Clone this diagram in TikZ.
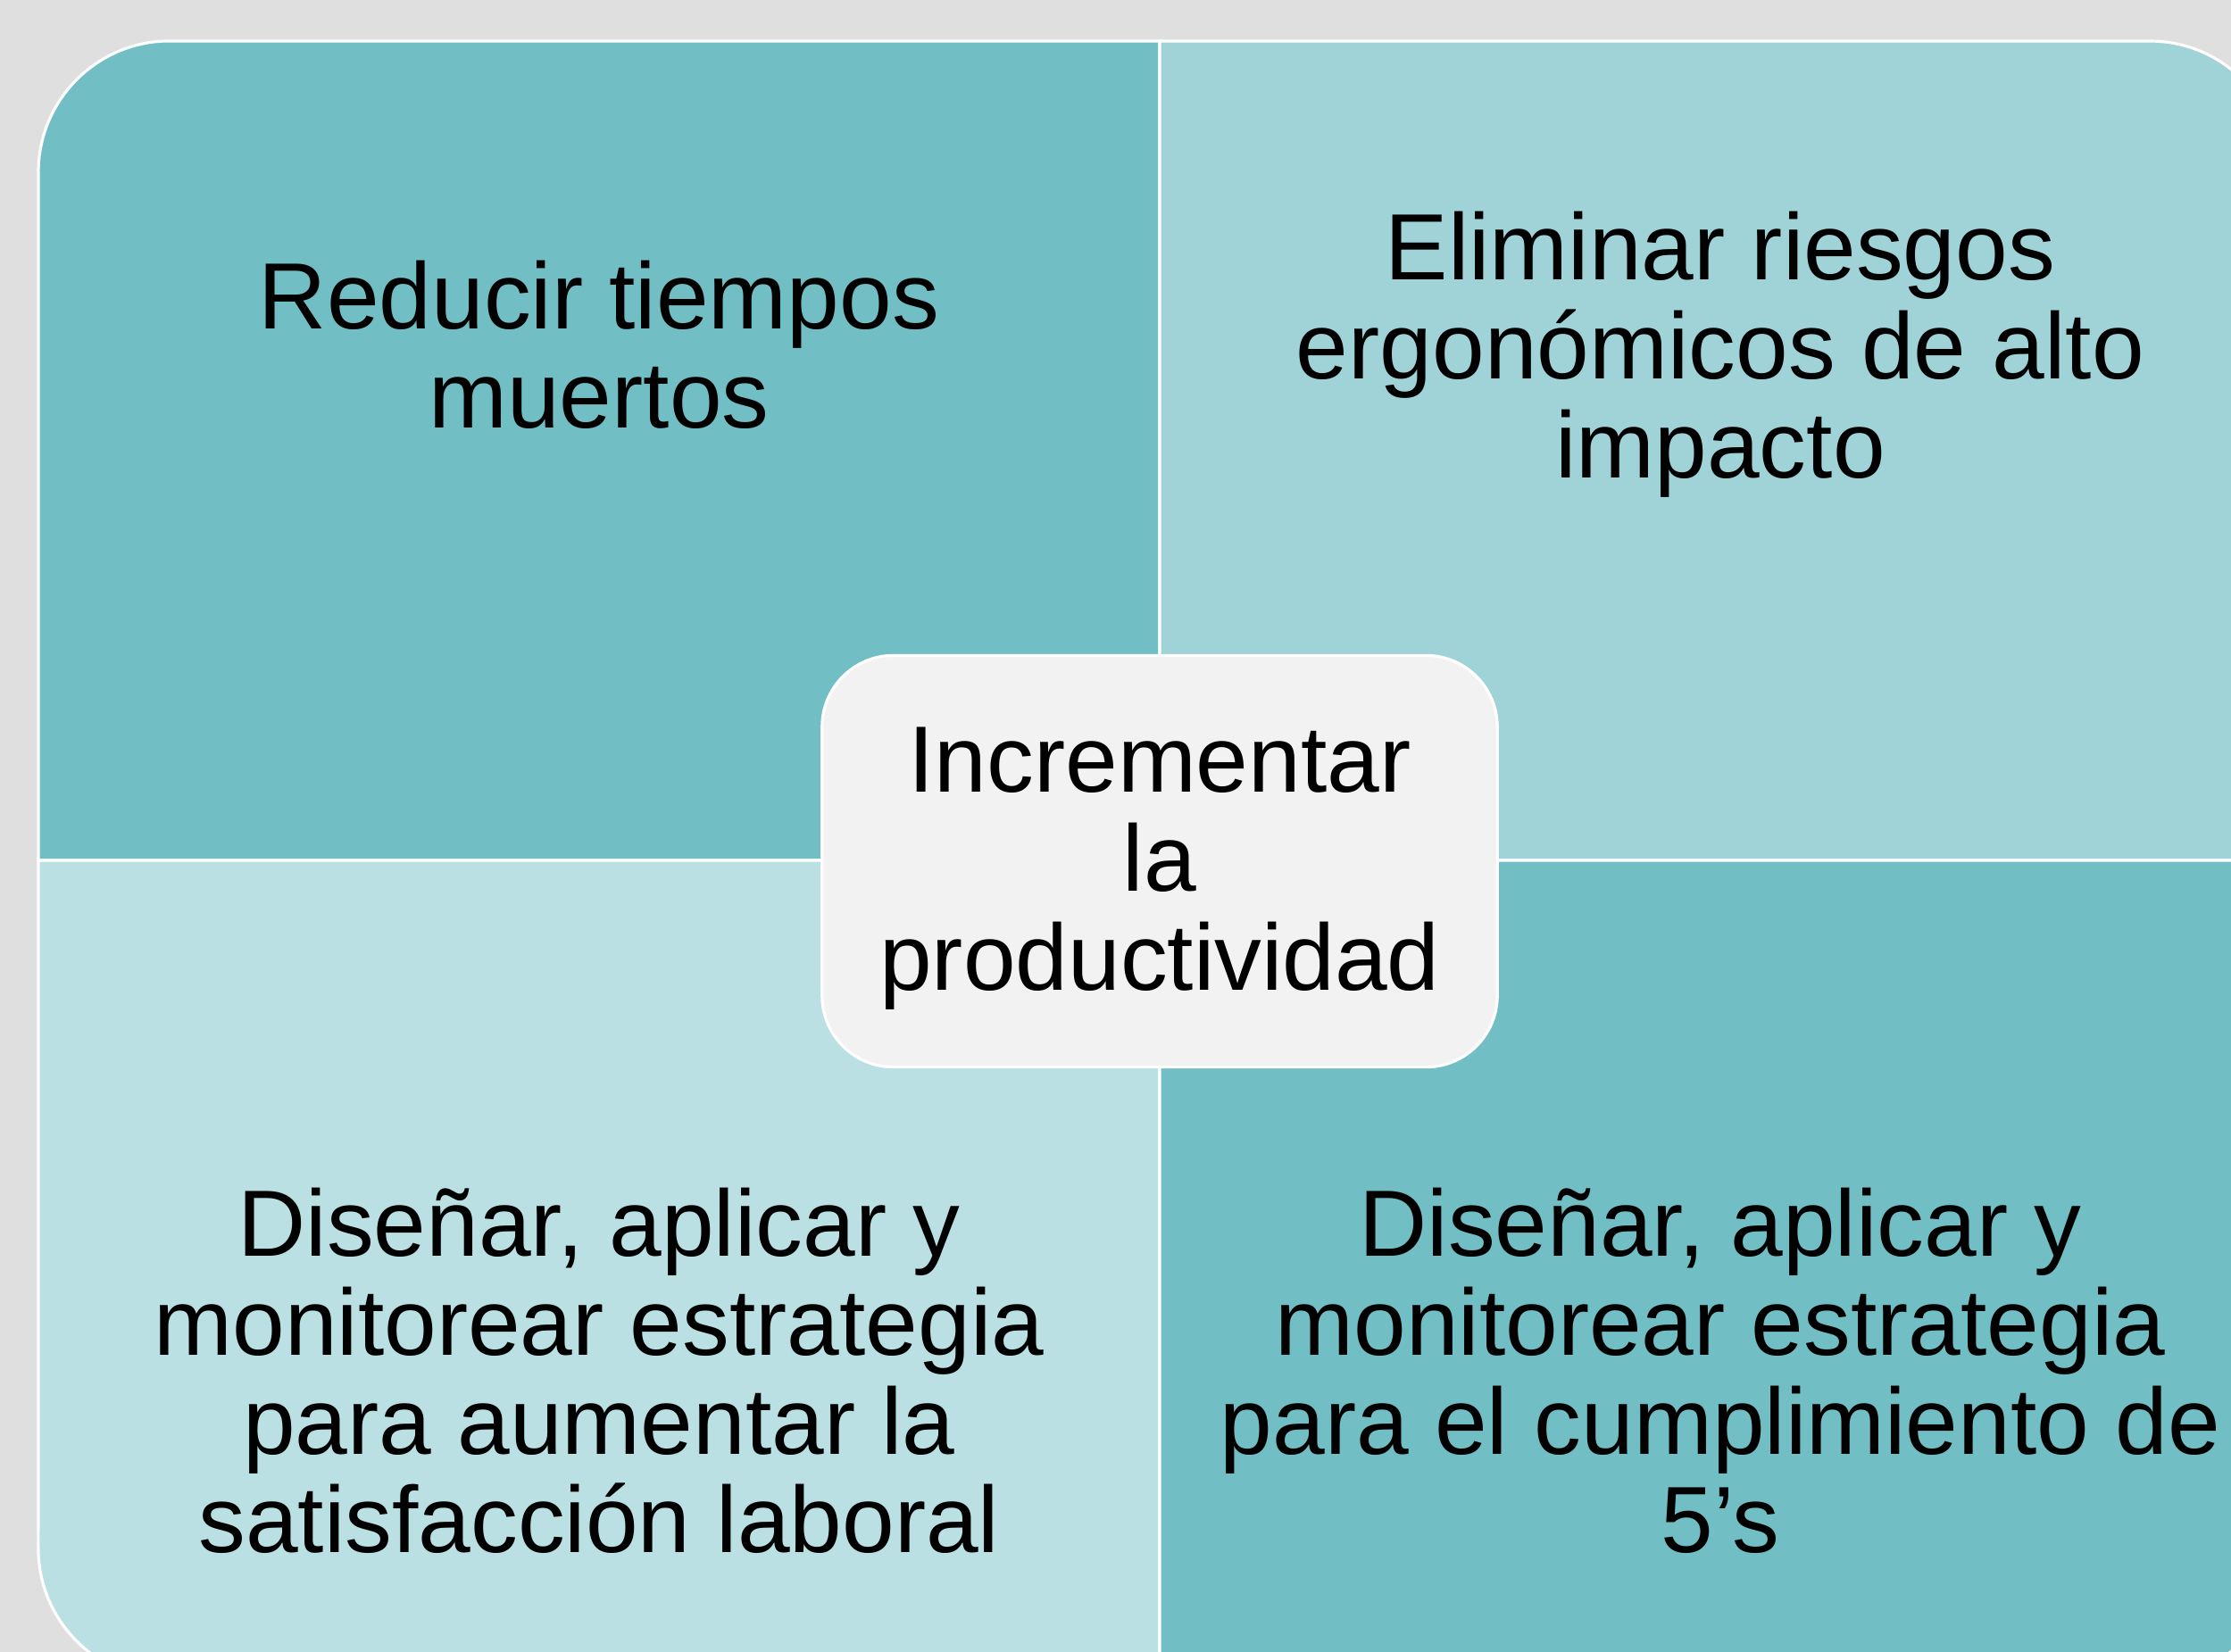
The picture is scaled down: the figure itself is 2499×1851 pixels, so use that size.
\documentclass[tikz,border=0pt]{standalone}
\usepackage{fontspec}
\setmainfont{Liberation Sans}

\definecolor{bggray}{HTML}{DFDFDF}
\definecolor{tealdark}{HTML}{71BEC4}
\definecolor{tealmid}{HTML}{9FD3D7}
\definecolor{teallight}{HTML}{BAE0E3}
\definecolor{hubgray}{HTML}{F2F2F2}

\begin{document}
\begin{tikzpicture}[x=0.01cm, y=-0.01cm,
  quad/.style = {fill=#1, draw=white, line width=0.9pt},
  quad/.default = tealdark,
  hub/.style = {fill=hubgray, draw=white, line width=0.9pt, rounded corners=0.8cm, minimum width=7.56cm, minimum height=4.61cm, inner sep=0pt},
  lbl/.style = {align=center, inner sep=0pt, font=\fontsize{30}{31.5}\selectfont}]

% Frame
\clip (0,0) rectangle (2499,1851);
\fill[bggray] (0,0) rectangle (2499,1851);

% Quadrants
\draw[quad=tealdark] (1299,964) -- (43,964) -- (43,193) arc[start angle=180, end angle=90, radius=1.47cm] -- (1299,46) -- cycle;
\draw[quad=tealmid] (1299,46) -- (2408,46) arc[start angle=90, end angle=0, radius=1.47cm] -- (2555,964) -- (1299,964) -- cycle;
\draw[quad=teallight] (1299,964) -- (1299,1882) -- (190,1882) arc[start angle=270, end angle=180, radius=1.47cm] -- (43,964) -- cycle;
\draw[quad=tealdark] (1299,964) -- (2555,964) -- (2555,1735) arc[start angle=0, end angle=-90, radius=1.47cm] -- (1299,1882) -- cycle;

% Labels
\node[lbl] (reducir) at (671,386) {Reducir tiempos\\muertos};
\node[lbl] (eliminar) at (1927,397) {Eliminar riesgos\\ergonómicos de alto\\impacto};
\node[lbl] (satisf) at (671,1536) {Diseñar, aplicar y\\monitorear estrategia\\para aumentar la\\satisfacción laboral};
\node[lbl] (cincos) at (1927,1536) {Diseñar, aplicar y\\monitorear estrategia\\para el cumplimiento de\\5’s};

% Center
\node[hub] (incr) at (1299,965) {};
\node[lbl] (incrtxt) at (incr.center) [yshift=-0.08cm] {Incrementar\\la\\productividad};

\end{tikzpicture}
\end{document}
